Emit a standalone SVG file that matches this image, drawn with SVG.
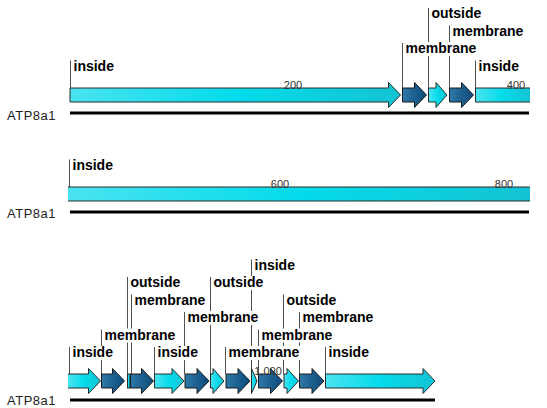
<svg xmlns="http://www.w3.org/2000/svg" width="547" height="408" viewBox="0 0 547 408">
<defs>
<linearGradient id="gl" x1="0" y1="0" x2="1" y2="0">
<stop offset="0" stop-color="#4ae3f0"/><stop offset="0.5" stop-color="#04dbeb"/><stop offset="1" stop-color="#14c3d3"/>
</linearGradient>
<linearGradient id="gd" x1="0" y1="0" x2="1" y2="0">
<stop offset="0" stop-color="#2e78a8"/><stop offset="1" stop-color="#0b4a78"/>
</linearGradient>
<style>
.l{fill:url(#gl);stroke:#2a2a2a;stroke-width:1}
.d{fill:url(#gd);stroke:#1a1a1a;stroke-width:1}
.lf{fill:url(#gl);stroke:none}
.ol{fill:none;stroke:#2a2a2a;stroke-width:1}
.ld{stroke:#505050;stroke-width:1}
.bg{fill:#fff}
.t{font-family:"Liberation Sans",Arial,sans-serif;font-weight:bold;font-size:14px;fill:#000}
.tk{font-family:"Liberation Sans",Arial,sans-serif;font-size:11px;fill:#333;text-anchor:middle}
.nm{font-family:"Liberation Sans",Arial,sans-serif;font-size:13px;letter-spacing:0.5px;fill:#222}
.bl{stroke:#000;stroke-width:3}
</style>
</defs>
<rect width="547" height="408" fill="#fff"/>

<g id="connectors">
<line class="ld" x1="70.5" y1="60.5" x2="70.5" y2="88"/>
<line class="ld" x1="402.5" y1="43" x2="402.5" y2="88"/>
<line class="ld" x1="428.5" y1="8" x2="428.5" y2="88"/>
<line class="ld" x1="449.5" y1="25.5" x2="449.5" y2="88"/>
<line class="ld" x1="475.5" y1="60.5" x2="475.5" y2="88"/>
<line class="ld" x1="69.5" y1="159.5" x2="69.5" y2="187"/>
<line class="ld" x1="69.5" y1="347" x2="69.5" y2="374"/>
<line class="ld" x1="101.5" y1="329.5" x2="101.5" y2="374"/>
<line class="ld" x1="127.5" y1="277" x2="127.5" y2="374"/>
<line class="ld" x1="131.5" y1="294.5" x2="131.5" y2="374"/>
<line class="ld" x1="154.5" y1="347" x2="154.5" y2="374"/>
<line class="ld" x1="184.5" y1="312" x2="184.5" y2="374"/>
<line class="ld" x1="210.5" y1="277" x2="210.5" y2="374"/>
<line class="ld" x1="225.5" y1="347" x2="225.5" y2="374"/>
<line class="ld" x1="251.5" y1="259.5" x2="251.5" y2="374"/>
<line class="ld" x1="258.5" y1="329.5" x2="258.5" y2="374"/>
<line class="ld" x1="283.5" y1="294.5" x2="283.5" y2="374"/>
<line class="ld" x1="299.5" y1="312" x2="299.5" y2="374"/>
<line class="ld" x1="325.5" y1="347" x2="325.5" y2="374"/>
</g>

<g id="row1-lines">
<line class="bl" x1="70" y1="113" x2="529" y2="113"/>
<text class="nm" x="7" y="119.5">ATP8a1</text>
</g>
<g id="row2-lines">
<line class="bl" x1="70" y1="212" x2="529" y2="212"/>
<text class="nm" x="7" y="217.5">ATP8a1</text>
</g>
<g id="row3-lines">
<line class="bl" x1="70" y1="400" x2="435" y2="400"/>
<text class="nm" x="7" y="405">ATP8a1</text>
</g>

<!-- Row 1 -->
<g id="r1-inside1">
<path class="l" d="M70,88 H388.5 V82.5 L400.5,95 L388.5,107.5 V102 H70 Z"/>
<rect class="bg" x="72" y="59.5" width="44" height="14"/>
<text class="t" x="73.5" y="70.5">inside</text>
</g>
<g id="r1-membrane1">
<path class="d" d="M402.5,88 H414.5 V82.5 L426.5,95 L414.5,107.5 V102 H402.5 Z"/>
<rect class="bg" x="404" y="42" width="74" height="14"/>
<text class="t" x="405.5" y="53">membrane</text>
</g>
<g id="r1-outside">
<path class="l" d="M428.5,88 H436 V82.5 L447,95 L436,107.5 V102 H428.5 Z"/>
<rect class="bg" x="430" y="7" width="53" height="14"/>
<text class="t" x="431.5" y="18">outside</text>
</g>
<g id="r1-membrane2">
<path class="d" d="M449.5,88 H461.5 V82.5 L473.5,95 L461.5,107.5 V102 H449.5 Z"/>
<rect class="bg" x="451" y="24.5" width="74" height="14"/>
<text class="t" x="452.5" y="35.5">membrane</text>
</g>
<g id="r1-inside2">
<rect class="lf" x="475.5" y="88" width="54.5" height="14"/>
<path class="ol" d="M530,88 H475.5 V102 H530"/>
<rect class="bg" x="477" y="59.5" width="44" height="14"/>
<text class="t" x="478.5" y="70.5">inside</text>
</g>

<!-- Row 2 -->
<g id="r2-inside">
<rect class="lf" x="68" y="187" width="462" height="14"/>
<path class="ol" d="M68,187 H530 M68,201 H530"/>
<rect class="bg" x="71" y="158.5" width="44" height="14"/>
<text class="t" x="72.5" y="169.5">inside</text>
</g>

<!-- Row 3 -->
<g id="r3-inside1">
<path class="lf" d="M68,374 H88.5 V368.5 L100.5,381 L88.5,393.5 V388 H68 Z"/>
<path class="ol" d="M68,374 H88.5 V368.5 L100.5,381 L88.5,393.5 V388 H68"/>
<rect class="bg" x="71" y="346" width="44" height="14"/>
<text class="t" x="72.5" y="357">inside</text>
</g>
<g id="r3-membrane1">
<path class="d" d="M101.5,374 H112.5 V368.5 L124.5,381 L112.5,393.5 V388 H101.5 Z"/>
<rect class="bg" x="103" y="328.5" width="74" height="14"/>
<text class="t" x="104.5" y="339.5">membrane</text>
</g>
<g id="r3-outside1">
<rect class="l" x="127.5" y="374" width="2.5" height="14"/>
<rect class="bg" x="129" y="276" width="53" height="14"/>
<text class="t" x="130.5" y="287">outside</text>
</g>
<g id="r3-membrane2">
<path class="d" d="M130.5,374 H141.5 V368.5 L153.5,381 L141.5,393.5 V388 H130.5 Z"/>
<rect class="bg" x="133" y="293.5" width="74" height="14"/>
<text class="t" x="134.5" y="304.5">membrane</text>
</g>
<g id="r3-inside2">
<path class="l" d="M154.5,374 H172 V368.5 L184,381 L172,393.5 V388 H154.5 Z"/>
<rect class="bg" x="156" y="346" width="44" height="14"/>
<text class="t" x="157.5" y="357">inside</text>
</g>
<g id="r3-membrane3">
<path class="d" d="M185,374 H197 V368.5 L209,381 L197,393.5 V388 H185 Z"/>
<rect class="bg" x="186" y="311" width="74" height="14"/>
<text class="t" x="187.5" y="322">membrane</text>
</g>
<g id="r3-outside2">
<path class="l" d="M210.5,374 H213 V368.5 L224,381 L213,393.5 V388 H210.5 Z"/>
<rect class="bg" x="212" y="276" width="53" height="14"/>
<text class="t" x="213.5" y="287">outside</text>
</g>
<g id="r3-membrane4">
<path class="d" d="M226,374 H238 V368.5 L250,381 L238,393.5 V388 H226 Z"/>
<rect class="bg" x="227" y="346" width="74" height="14"/>
<text class="t" x="228.5" y="357">membrane</text>
</g>
<g id="r3-inside3">
<path class="l" d="M251.5,374 V368.5 L257,381 L251.5,393.5 V388 Z"/>
<rect class="bg" x="253" y="258.5" width="44" height="14"/>
<text class="t" x="254.5" y="269.5">inside</text>
</g>
<g id="r3-membrane5">
<path class="d" d="M258.5,374 H270.5 V368.5 L282.5,381 L270.5,393.5 V388 H258.5 Z"/>
<rect class="bg" x="260" y="328.5" width="74" height="14"/>
<text class="t" x="261.5" y="339.5">membrane</text>
</g>
<g id="r3-outside3">
<path class="l" d="M284,374 H287 V368.5 L298.5,381 L287,393.5 V388 H284 Z"/>
<rect class="bg" x="285" y="293.5" width="53" height="14"/>
<text class="t" x="286.5" y="304.5">outside</text>
</g>
<g id="r3-membrane6">
<path class="d" d="M299.5,374 H312 V368.5 L324,381 L312,393.5 V388 H299.5 Z"/>
<rect class="bg" x="301" y="311" width="74" height="14"/>
<text class="t" x="302.5" y="322">membrane</text>
</g>
<g id="r3-inside4">
<path class="l" d="M325.5,374 H423 V368.5 L435,381 L423,393.5 V388 H325.5 Z"/>
<rect class="bg" x="327" y="346" width="44" height="14"/>
<text class="t" x="328.5" y="357">inside</text>
</g>

<g id="ticks">
<text class="tk" x="293" y="88.5">200</text>
<text class="tk" x="516" y="88.5">400</text>
<text class="tk" x="280" y="187.5">600</text>
<text class="tk" x="504" y="187.5">800</text>
<text class="tk" x="268" y="374.5">1,000</text>
</g>
</svg>
